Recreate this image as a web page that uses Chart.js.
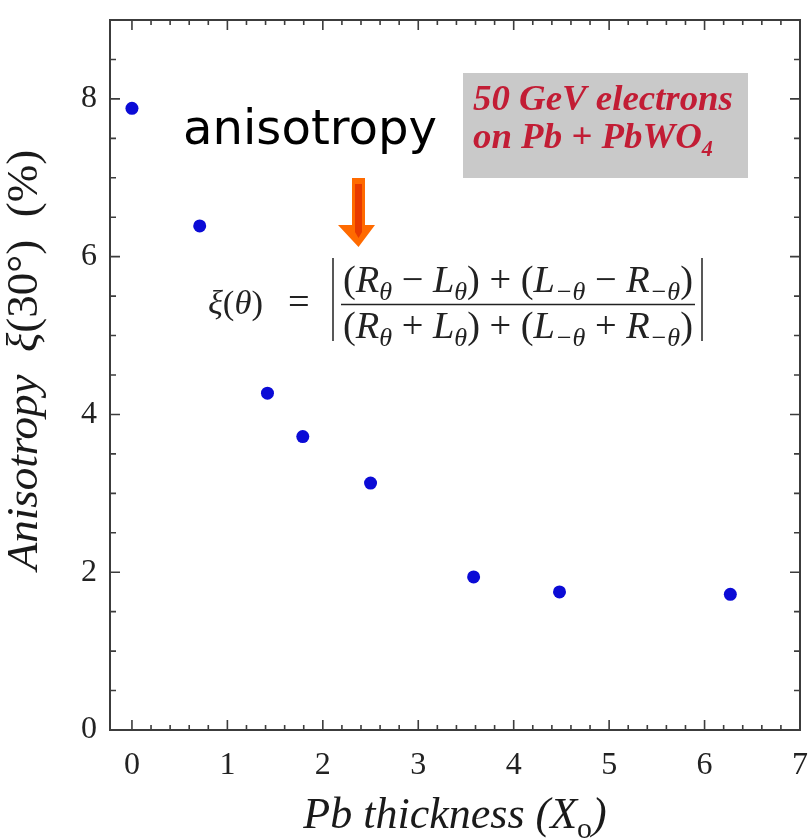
<!DOCTYPE html>
<html>
<head>
<meta charset="utf-8">
<script src="https://cdn.jsdelivr.net/npm/chart.js@4.4.0/dist/chart.umd.min.js"></script>
<style>
  html, body { margin: 0; padding: 0; background: #fff; }
  #wrap { width: 810px; height: 840px; position: relative; }
</style>
</head>
<body>
<div id="wrap"><canvas id="chart"></canvas></div>
<script>
// Pb thickness (radiation lengths) vs. measured anisotropy at 30 degrees
const thicknessX0 = [0, 0.71, 1.42, 1.79, 2.5, 3.58, 4.48, 6.27];
const anisotropyPct = [7.88, 6.39, 4.27, 3.72, 3.13, 1.94, 1.75, 1.72];

const xTickValues = [0, 1, 2, 3, 4, 5, 6, 7];
const yTickValues = [0, 2, 4, 6, 8];
const X_MIN = -0.23, X_MAX = 7;
const Y_MIN = 0, Y_MAX = 9;
const X_MINOR = 0.2, Y_MINOR = 0.5;

const SERIF = '"Liberation Serif", "DejaVu Serif", serif';

function runFont(r, size) {
  const fs = (r.sub || r.sup) ? size * (r.small || 0.68) : size;
  return `${r.it ? 'italic ' : ''}${r.b ? 'bold ' : ''}${fs}px ${SERIF}`;
}
function measureRuns(ctx, runs, size) {
  let w = 0;
  for (const r of runs) { ctx.font = runFont(r, size); w += ctx.measureText(r.t).width; }
  return w;
}
// draws a row of mixed-style text pieces, returns width
function drawRuns(ctx, runs, x, y, size) {
  let cx = x;
  ctx.textAlign = 'left';
  ctx.textBaseline = 'alphabetic';
  for (const r of runs) {
    ctx.font = runFont(r, size);
    const dy = r.sub ? size * 0.22 : r.sup ? -size * 0.38 : 0;
    ctx.fillText(r.t, cx, y + dy);
    cx += ctx.measureText(r.t).width;
  }
  return cx - x;
}
// font size that makes a run list span the given width
function fitSize(ctx, runs, width, guess) {
  return guess * width / measureRuns(ctx, runs, guess);
}

// frame on all four sides with inward ticks
const framePlugin = {
  id: 'frame',
  beforeDatasetsDraw(chart) {
    const { ctx, chartArea: a, scales: { x, y } } = chart;
    ctx.save();
    ctx.strokeStyle = '#3c3c3c';
    ctx.lineWidth = 2;
    ctx.strokeRect(a.left, a.top, a.right - a.left, a.bottom - a.top);
    ctx.lineWidth = 1.6;
    ctx.beginPath();
    for (let i = 0; i * X_MINOR <= X_MAX + 1e-6; i++) {
      const px = x.getPixelForValue(i * X_MINOR);
      const len = (i % 5 === 0) ? 10 : 5;
      ctx.moveTo(px, a.bottom); ctx.lineTo(px, a.bottom - len);
      ctx.moveTo(px, a.top); ctx.lineTo(px, a.top + len);
    }
    for (let i = 0; i * Y_MINOR <= Y_MAX + 1e-6; i++) {
      const py = y.getPixelForValue(i * Y_MINOR);
      const len = (i % 4 === 0) ? 10 : 6;
      ctx.moveTo(a.left, py); ctx.lineTo(a.left + len, py);
      ctx.moveTo(a.right, py); ctx.lineTo(a.right - len, py);
    }
    ctx.stroke();
    ctx.restore();
  }
};

const labelsPlugin = {
  id: 'labels',
  afterDraw(chart) {
    const { ctx, chartArea: a } = chart;
    ctx.save();
    ctx.fillStyle = '#1a1a1a';

    // x axis title
    const xRuns = [{ t: 'Pb thickness (X', it: true }, { t: 'o', sub: true }, { t: ')', it: true }];
    const xs = 44;
    const xw = measureRuns(ctx, xRuns, xs);
    drawRuns(ctx, xRuns, (a.left + a.right) / 2 - xw / 2, 828, xs);

    // y axis title, rotated
    const yRuns = [{ t: 'Anisotropy', it: true }, { t: '  ' }, { t: 'ξ', it: true }, { t: '(30°)  (%)' }];
    const ys = 45;
    const yw = measureRuns(ctx, yRuns, ys);
    ctx.save();
    ctx.translate(37, 360);
    ctx.rotate(-Math.PI / 2);
    drawRuns(ctx, yRuns, -yw / 2, 0, ys);
    ctx.restore();

    // beam/target box
    ctx.fillStyle = '#c9c9c9';
    ctx.fillRect(463, 73, 285, 105);
    ctx.fillStyle = '#c21d35';
    const l1 = [{ t: '50 GeV electrons', it: true, b: true }];
    const bs = fitSize(ctx, l1, 260, 30);
    drawRuns(ctx, l1, 473, 110, bs);
    drawRuns(ctx, [{ t: 'on Pb + PbWO', it: true, b: true }, { t: '4', it: true, b: true, sub: true, small: 0.6 }], 473, 148, bs);

    // "anisotropy" callout
    ctx.fillStyle = '#000';
    let fs = 42;
    ctx.font = `${fs}px "DejaVu Sans", sans-serif`;
    fs = fs * 254 / ctx.measureText('anisotropy').width;
    ctx.font = `${fs}px "DejaVu Sans", sans-serif`;
    ctx.textAlign = 'left';
    ctx.textBaseline = 'alphabetic';
    ctx.fillText('anisotropy', 183, 144);

    // arrow
    ctx.fillStyle = '#ff6a00';
    ctx.beginPath();
    ctx.moveTo(352, 178); ctx.lineTo(365, 178); ctx.lineTo(365, 225);
    ctx.lineTo(375, 225); ctx.lineTo(358.5, 247); ctx.lineTo(338, 225);
    ctx.lineTo(352, 225); ctx.closePath();
    ctx.fill();
    ctx.fillStyle = '#e83a00';
    ctx.beginPath();
    ctx.moveTo(355, 184); ctx.lineTo(362, 184); ctx.lineTo(362, 232);
    ctx.lineTo(358.5, 238); ctx.lineTo(355, 232); ctx.closePath();
    ctx.fill();

    // formula
    ctx.fillStyle = '#222';
    const num = [
      { t: '(' }, { t: 'R', it: true }, { t: 'θ', it: true, sub: true }, { t: ' − ' },
      { t: 'L', it: true }, { t: 'θ', it: true, sub: true }, { t: ') + (' },
      { t: 'L', it: true }, { t: '−θ', it: true, sub: true }, { t: ' − ' },
      { t: 'R', it: true }, { t: '−θ', it: true, sub: true }, { t: ')' }
    ];
    const den = num.map(r => r.t === ' − ' ? { t: ' + ' } : r);
    const fsz = fitSize(ctx, num, 350, 30);
    const lhs = [{ t: 'ξ', it: true }, { t: '(' }, { t: 'θ', it: true }, { t: ')' }];
    drawRuns(ctx, lhs, 208, 314, fitSize(ctx, lhs, 55, 30));
    drawRuns(ctx, [{ t: '=' }], 288, 314, fsz);
    const cx = 518;
    drawRuns(ctx, num, cx - 175, 292, fsz);
    drawRuns(ctx, den, cx - measureRuns(ctx, den, fsz) / 2, 338, fsz);
    ctx.strokeStyle = '#222';
    ctx.lineWidth = 1.5;
    ctx.beginPath();
    ctx.moveTo(341, 304.5); ctx.lineTo(695, 304.5);
    ctx.moveTo(333, 258); ctx.lineTo(333, 341);
    ctx.moveTo(702, 258); ctx.lineTo(702, 341);
    ctx.stroke();

    ctx.restore();
  }
};

const points = thicknessX0.map((v, i) => ({ x: v, y: anisotropyPct[i] }));

new Chart(document.getElementById('chart'), {
  type: 'scatter',
  data: {
    datasets: [{
      data: points,
      pointRadius: 6.5,
      pointBackgroundColor: '#0b0bd6',
      pointBorderColor: '#0b0bd6',
      pointBorderWidth: 0
    }]
  },
  options: {
    responsive: true,
    maintainAspectRatio: false,
    animation: false,
    layout: { padding: { top: 20, right: 10, left: 0, bottom: 0 } },
    plugins: { legend: { display: false }, tooltip: { enabled: false } },
    scales: {
      x: {
        type: 'linear',
        min: X_MIN, max: X_MAX,
        afterBuildTicks: s => { s.ticks = xTickValues.map(v => ({ value: v })); },
        afterFit: s => { s.height = 110; s.paddingLeft = 0; s.paddingRight = 0; },
        grid: { display: false, drawTicks: false },
        border: { display: false },
        ticks: { color: '#222', padding: 16, font: { family: SERIF, size: 32 }, maxRotation: 0 }
      },
      y: {
        type: 'linear',
        min: Y_MIN, max: Y_MAX,
        afterBuildTicks: s => { s.ticks = yTickValues.map(v => ({ value: v })); },
        afterFit: s => { s.width = 110; s.paddingTop = 0; s.paddingBottom = 0; },
        grid: { display: false, drawTicks: false },
        border: { display: false },
        ticks: { color: '#222', padding: 13, font: { family: SERIF, size: 32 } }
      }
    }
  },
  plugins: [framePlugin, labelsPlugin]
});
</script>
</body>
</html>
